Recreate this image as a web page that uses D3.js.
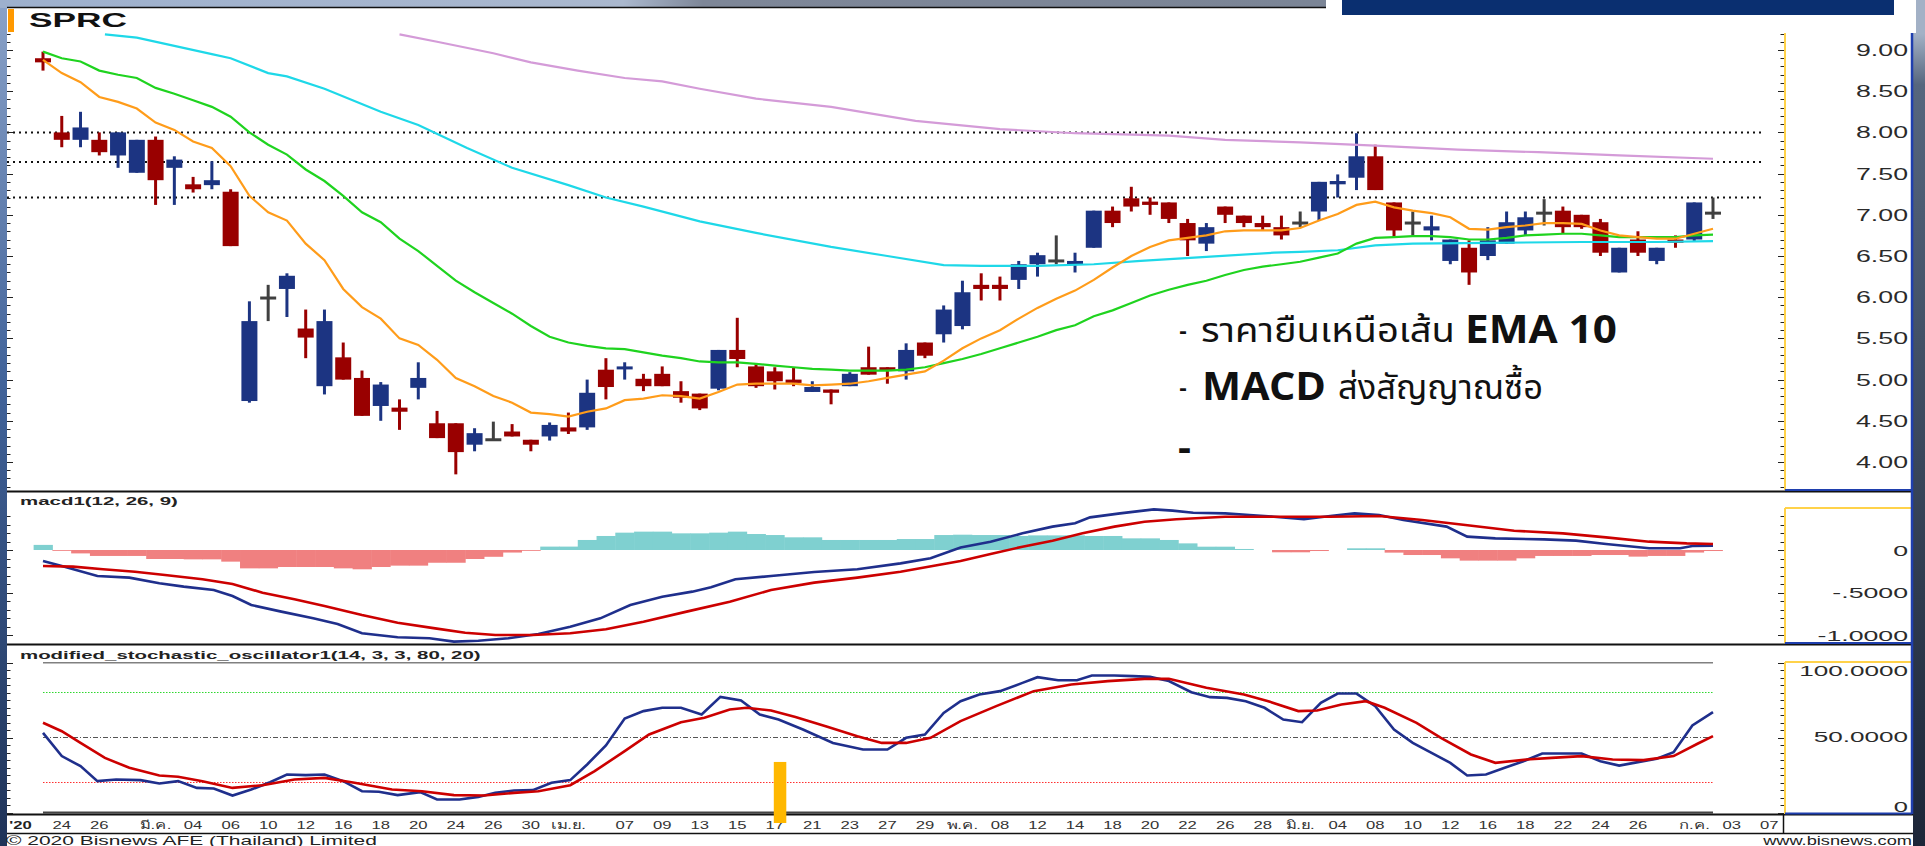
<!DOCTYPE html>
<html>
<head>
<meta charset="utf-8">
<script src="https://cdn.jsdelivr.net/npm/d3@7"></script>
<style>
    html, body {margin: 0; padding: 0; background: #26385a; overflow: hidden;}
    svg {display: block;}
</style>
</head>
<body>
<svg id="chart" width="1925" height="846"></svg>
<script>
// ---------------- data ----------------
// one entry per trading day, index 0 = 21 Feb 2020
let dates = ['02-21', '02-24', '02-25', '02-26', '02-27', '02-28', '03-02', '03-03', '03-04', '03-05',
    '03-06', '03-09', '03-10', '03-11', '03-12', '03-13', '03-16', '03-17', '03-18', '03-19',
    '03-20', '03-23', '03-24', '03-25', '03-26', '03-27', '03-30', '03-31', '04-01', '04-02',
    '04-03', '04-07', '04-08', '04-09', '04-10', '04-13', '04-14', '04-15', '04-16', '04-17',
    '04-20', '04-21', '04-22', '04-23', '04-24', '04-27', '04-28', '04-29', '04-30', '05-05',
    '05-07', '05-08', '05-11', '05-12', '05-13', '05-14', '05-15', '05-18', '05-19', '05-20',
    '05-21', '05-22', '05-25', '05-26', '05-27', '05-28', '05-29', '06-01', '06-02', '06-04',
    '06-05', '06-08', '06-09', '06-10', '06-11', '06-12', '06-15', '06-16', '06-17', '06-18',
    '06-19', '06-22', '06-23', '06-24', '06-25', '06-26', '06-29', '06-30', '07-01', '07-02'];

let opens = [8.90, 8.00, 7.91, 7.91, 7.72, 7.51, 7.91, 7.57, 7.37, 7.36,
    7.28, 4.74, 5.99, 6.10, 5.62, 4.92, 5.27, 5.02, 4.68, 4.66,
    4.90, 4.47, 4.47, 4.21, 4.27, 4.37, 4.27, 4.31, 4.42, 4.42,
    5.12, 5.13, 5.01, 5.07, 4.86, 4.83, 4.89, 5.36, 5.16, 5.10,
    5.00, 4.85, 4.88, 4.92, 5.15, 5.15, 5.10, 5.45, 5.55, 5.65,
    6.15, 6.15, 6.21, 6.40, 6.44, 6.40, 6.60, 7.05, 7.20, 7.16,
    7.15, 6.90, 6.65, 7.10, 6.99, 6.90, 6.85, 6.90, 7.04, 7.37,
    7.45, 7.71, 7.15, 6.90, 6.81, 6.44, 6.60, 6.50, 6.65, 6.81,
    7.02, 7.05, 7.00, 6.91, 6.30, 6.70, 6.44, 6.70, 6.70, 7.02];
let highs = [8.98, 8.20, 8.25, 8.00, 8.00, 7.91, 7.95, 7.71, 7.46, 7.65,
    7.31, 5.95, 6.15, 6.29, 5.85, 5.85, 5.45, 5.11, 4.97, 4.76,
    5.21, 4.62, 4.47, 4.41, 4.49, 4.46, 4.27, 4.48, 4.60, 5.00,
    5.26, 5.21, 5.07, 5.16, 4.98, 4.83, 5.36, 5.75, 5.19, 5.15,
    5.15, 4.98, 4.88, 5.09, 5.40, 5.15, 5.44, 5.45, 5.90, 6.20,
    6.29, 6.25, 6.44, 6.54, 6.75, 6.54, 7.05, 7.10, 7.34, 7.21,
    7.15, 6.95, 6.90, 7.10, 6.99, 6.99, 6.99, 7.04, 7.40, 7.49,
    7.99, 7.85, 7.15, 7.04, 6.99, 6.70, 6.69, 6.85, 7.04, 7.04,
    7.19, 7.10, 7.00, 6.95, 6.60, 6.80, 6.60, 6.75, 7.15, 7.21];
let lows = [8.75, 7.82, 7.82, 7.72, 7.57, 7.51, 7.12, 7.12, 7.27, 7.31,
    6.62, 4.72, 5.71, 5.76, 5.26, 4.82, 5.00, 4.56, 4.50, 4.39,
    4.76, 4.29, 3.85, 4.13, 4.27, 4.31, 4.13, 4.26, 4.34, 4.39,
    4.76, 5.00, 4.86, 4.92, 4.72, 4.63, 4.87, 5.15, 4.90, 4.88,
    4.92, 4.85, 4.70, 4.92, 5.06, 4.95, 5.00, 5.26, 5.45, 5.61,
    5.96, 5.96, 6.10, 6.25, 6.40, 6.30, 6.60, 6.85, 7.04, 7.00,
    6.90, 6.50, 6.56, 6.90, 6.85, 6.81, 6.70, 6.85, 6.93, 7.21,
    7.30, 7.30, 6.72, 6.75, 6.69, 6.40, 6.15, 6.45, 6.65, 6.75,
    6.87, 6.77, 6.83, 6.50, 6.30, 6.50, 6.40, 6.60, 6.68, 6.95];
let closes = [8.85, 7.91, 8.06, 7.76, 8.00, 7.91, 7.42, 7.67, 7.31, 7.42,
    6.62, 5.71, 5.99, 6.26, 5.51, 5.71, 5.00, 4.56, 4.94, 4.61,
    5.02, 4.29, 4.12, 4.35, 4.27, 4.31, 4.21, 4.45, 4.37, 4.84,
    4.91, 5.16, 4.92, 4.92, 4.78, 4.65, 5.36, 5.25, 4.92, 4.98,
    4.96, 4.91, 4.84, 5.07, 5.06, 5.13, 5.36, 5.29, 5.85, 6.06,
    6.10, 6.10, 6.40, 6.51, 6.44, 6.44, 7.05, 6.90, 7.10, 7.12,
    6.95, 6.69, 6.85, 7.00, 6.90, 6.85, 6.75, 6.90, 7.40, 7.41,
    7.71, 7.30, 6.81, 6.90, 6.86, 6.70, 6.30, 6.69, 6.91, 6.97,
    7.02, 6.85, 6.85, 6.54, 6.60, 6.54, 6.60, 6.66, 7.15, 7.02];

// moving averages, [day index, price]
let ema10 = [[0, 8.88], [1, 8.72], [2, 8.61], [3, 8.43], [4, 8.37], [5, 8.29], [6, 8.12], [7, 8.03], [8, 7.89], [9, 7.81],
    [10, 7.59], [11, 7.23], [12, 7.03], [13, 6.93], [14, 6.65], [15, 6.45], [16, 6.10], [17, 5.88], [18, 5.74], [19, 5.50],
    [20, 5.42], [21, 5.24], [22, 5.02], [23, 4.92], [24, 4.80], [25, 4.72], [26, 4.60], [27, 4.58], [28, 4.55], [29, 4.61],
    [30, 4.65], [31, 4.75], [32, 4.77], [33, 4.81], [34, 4.80], [35, 4.77], [36, 4.85], [37, 4.94], [38, 4.95], [39, 4.95],
    [40, 4.95], [41, 4.93], [42, 4.94], [43, 4.95], [44, 4.98], [45, 5.02], [46, 5.06], [47, 5.10], [48, 5.23], [49, 5.38],
    [50, 5.50], [51, 5.60], [52, 5.74], [53, 5.87], [54, 5.98], [55, 6.08], [56, 6.21], [57, 6.36], [58, 6.50], [59, 6.61],
    [60, 6.69], [61, 6.72], [62, 6.75], [63, 6.80], [64, 6.81], [65, 6.81], [66, 6.81], [67, 6.84], [68, 6.93], [69, 7.01],
    [70, 7.12], [71, 7.16], [72, 7.09], [73, 7.05], [74, 7.02], [75, 6.97], [76, 6.83], [77, 6.82], [78, 6.85], [79, 6.87],
    [80, 6.90], [81, 6.90], [82, 6.89], [83, 6.81], [84, 6.75], [85, 6.73], [86, 6.71], [87, 6.71], [88, 6.77], [89, 6.83]];
let ema25 = [[0, 8.98], [1, 8.90], [2, 8.86], [3, 8.75], [4, 8.70], [5, 8.66], [6, 8.54], [7, 8.47], [8, 8.39], [9, 8.31],
    [10, 8.19], [11, 8.00], [12, 7.85], [13, 7.73], [14, 7.55], [15, 7.41], [16, 7.23], [17, 7.03], [18, 6.91], [19, 6.71],
    [20, 6.56], [21, 6.38], [22, 6.20], [23, 6.06], [24, 5.93], [25, 5.80], [26, 5.65], [27, 5.52], [28, 5.45], [29, 5.41],
    [30, 5.38], [31, 5.37], [32, 5.33], [33, 5.29], [34, 5.26], [35, 5.22], [36, 5.21], [37, 5.21], [38, 5.19], [39, 5.17],
    [40, 5.15], [41, 5.13], [42, 5.12], [43, 5.11], [44, 5.11], [45, 5.11], [46, 5.12], [47, 5.15], [48, 5.20], [49, 5.25],
    [50, 5.31], [51, 5.38], [52, 5.45], [53, 5.52], [54, 5.60], [55, 5.66], [56, 5.77], [57, 5.84], [58, 5.93], [59, 6.02],
    [60, 6.09], [61, 6.15], [62, 6.20], [63, 6.27], [64, 6.33], [65, 6.37], [66, 6.40], [67, 6.43], [68, 6.48], [69, 6.53],
    [70, 6.65], [71, 6.72], [72, 6.73], [73, 6.74], [74, 6.74], [75, 6.73], [76, 6.70], [77, 6.70], [78, 6.72], [79, 6.75],
    [80, 6.76], [81, 6.77], [82, 6.77], [83, 6.75], [84, 6.73], [85, 6.73], [86, 6.73], [87, 6.73], [88, 6.75], [89, 6.76]];
let ema75 = [[3.3, 9.19], [5, 9.15], [7, 9.05], [9, 8.95], [10, 8.90], [12, 8.72], [13, 8.68], [15, 8.53], [18, 8.25],
    [20, 8.09], [22.6, 7.81], [25, 7.57], [28, 7.36], [30, 7.21], [32, 7.10], [35, 6.92], [38, 6.78], [42, 6.61],
    [45, 6.50], [48, 6.39], [50, 6.38], [53, 6.38], [56, 6.40], [58.5, 6.44], [62, 6.49], [65.6, 6.54], [67, 6.55],
    [69, 6.57], [71, 6.63], [73, 6.65], [77, 6.66], [82, 6.67], [86, 6.67], [89, 6.68]];
let ema200 = [[19, 9.19], [21, 9.10], [24, 8.96], [26, 8.85], [28.5, 8.75], [31, 8.66], [33, 8.62], [35, 8.53],
    [38, 8.41], [42, 8.31], [46.5, 8.14], [51, 8.04], [55, 7.99], [60, 7.96], [63, 7.91], [67, 7.88], [71, 7.84],
    [75.4, 7.79], [79.7, 7.76], [84, 7.72], [89, 7.68]];

// dotted price levels drawn across the price panel
let levels = [8.00, 7.64, 7.21];

// MACD(12, 26, 9)
let macdLine = [[0, -0.129], [1, -0.188], [2.9, -0.306], [4.6, -0.325], [6.2, -0.392], [7.5, -0.431], [9.1, -0.471],
    [10.1, -0.541], [11.1, -0.647], [12.7, -0.725], [14.4, -0.804], [15.7, -0.871], [17, -0.98], [18.9, -1.027],
    [20.6, -1.039], [21.9, -1.078], [23.2, -1.067], [24.8, -1.039], [26.4, -0.988], [28.1, -0.902], [29.7, -0.804],
    [31.3, -0.647], [33, -0.549], [34.6, -0.49], [35.6, -0.439], [36.9, -0.345], [38.8, -0.306], [41.1, -0.259],
    [43.4, -0.227], [45.7, -0.157], [47.3, -0.098], [48.9, 0.03], [50.5, 0.098], [52.2, 0.196], [53.8, 0.275],
    [55, 0.314], [55.8, 0.384], [57.4, 0.431], [59.2, 0.478], [60.2, 0.463], [61.3, 0.439], [63, 0.431],
    [64.3, 0.412], [65.6, 0.392], [67.2, 0.361], [68.6, 0.4], [69.9, 0.431], [71.2, 0.412], [72.5, 0.353],
    [74.8, 0.275], [75.9, 0.157], [77.4, 0.137], [80, 0.125], [81.7, 0.11], [83.3, 0.071], [85.6, 0.02],
    [87.25, 0.02], [87.9, 0.047], [89, 0.051]];
let signalLine = [[0, -0.188], [1.6, -0.196], [3.2, -0.227], [4.9, -0.255], [6.5, -0.294], [8.5, -0.345], [10.1, -0.4],
    [11.7, -0.502], [13.4, -0.58], [15, -0.659], [17, -0.765], [18.9, -0.855], [20.9, -0.922], [22.5, -0.973],
    [24.1, -1.0], [26.1, -1.0], [28.1, -0.98], [30, -0.933], [32, -0.843], [34.3, -0.725], [36.6, -0.608],
    [38.8, -0.471], [41.1, -0.384], [43.4, -0.325], [45.7, -0.255], [48.9, -0.129], [50.5, -0.047], [52.2, 0.039],
    [53.8, 0.11], [55.4, 0.196], [57.1, 0.275], [58.7, 0.333], [60.4, 0.361], [63, 0.392], [65.3, 0.392],
    [68.6, 0.392], [71.2, 0.4], [73.5, 0.353], [75.8, 0.294], [78.4, 0.227], [81, 0.196], [83.3, 0.149],
    [85.6, 0.098], [87.6, 0.078], [89, 0.071]];
let macdHist = [0.06, -0.01, -0.04, -0.07, -0.07, -0.07, -0.106, -0.106, -0.11, -0.11,
    -0.137, -0.216, -0.216, -0.2, -0.2, -0.2, -0.216, -0.227, -0.2, -0.184,
    -0.184, -0.15, -0.15, -0.106, -0.08, -0.03, -0.01, 0.04, 0.04, 0.118,
    0.165, 0.204, 0.216, 0.216, 0.196, 0.196, 0.204, 0.216, 0.188, 0.176,
    0.149, 0.149, 0.118, 0.118, 0.118, 0.118, 0.129, 0.129, 0.176, 0.18,
    0.176, 0.176, 0.165, 0.172, 0.172, 0.172, 0.165, 0.165, 0.137, 0.137,
    0.118, 0.078, 0.039, 0.039, 0.012, 0, -0.027, -0.027, -0.012, 0,
    0.02, 0.02, -0.031, -0.059, -0.059, -0.098, -0.125, -0.125, -0.125, -0.098,
    -0.07, -0.07, -0.07, -0.059, -0.059, -0.078, -0.07, -0.07, -0.03, -0.012];

// modified stochastic oscillator (14, 3, 3, 80, 20)
let stochK = [[0, 53.1], [1, 37.6], [2, 30.9], [2.9, 20.9], [3.9, 22.0], [5.2, 21.6], [6.2, 19.3], [7.2, 20.9], [8.2, 16.4],
    [9.1, 16.0], [10.1, 11.3], [11.1, 15.3], [12.1, 20.2], [13, 25.3], [14, 24.9], [15, 25.3], [16, 20.9], [17, 14.2],
    [17.9, 13.8], [18.9, 11.6], [20.1, 13.6], [21, 8.7], [22.2, 8.7], [23.2, 10.4], [24.1, 13.1], [25.1, 14.7],
    [26.1, 14.9], [27.1, 19.8], [28.1, 21.6], [29, 32.0], [30, 44.7], [31, 62.7], [32, 67.6], [33, 69.8], [34, 69.8],
    [35.1, 65.3], [36.1, 77.1], [37.2, 74.7], [38.2, 65.3], [39.2, 62.0], [40.5, 55.3], [42.1, 46.4], [43.7, 42.0],
    [45, 42.0], [46, 49.8], [47, 52.0], [48, 66.4], [48.9, 74.2], [49.9, 78.7], [51, 80.9], [52.2, 86.4], [53, 90.2],
    [54.1, 88.2], [55.1, 88.2], [55.9, 91.3], [57.1, 91.3], [58.1, 90.9], [59, 90.4], [60, 87.6], [61.2, 80.2],
    [62.2, 76.9], [63.1, 76.4], [64.1, 74.2], [65.1, 69.8], [66.1, 62.0], [67.1, 60.2], [68.1, 73.1], [69, 79.3],
    [70, 79.3], [71, 70.9], [72, 55.3], [73, 46.4], [74, 39.8], [75, 33.1], [75.9, 24.7], [76.9, 25.3], [77.9, 29.8],
    [78.9, 34.2], [79.9, 39.3], [80.9, 39.3], [82, 39.3], [83, 34.2], [84, 31.3], [85, 33.6], [86, 35.8], [86.9, 40.2],
    [87.9, 58.0], [89, 66.9]];
let stochD = [[0, 59.8], [1, 54.2], [2, 46.4], [3.3, 36.4], [4.6, 29.8], [6.2, 24.7], [7.2, 23.8], [8.5, 20.9], [10.1, 16.4],
    [11.7, 18.2], [13.4, 22.0], [15, 23.1], [16.6, 19.8], [18.6, 15.3], [20.2, 14.2], [21.9, 11.6], [23.5, 11.3],
    [25.1, 13.1], [26.4, 14.2], [28.1, 18.2], [29.4, 27.6], [31, 40.9], [32.3, 52.0], [34, 60.2], [35.25, 63.1],
    [36.6, 68.7], [37.5, 69.8], [38.8, 68.0], [40.1, 63.6], [41.8, 57.1], [43.4, 50.9], [44.7, 46.4], [46, 46.4],
    [47.3, 49.8], [48.9, 60.9], [50.8, 70.9], [52.8, 80.9], [54.8, 85.3], [56.75, 87.6], [58.7, 89.1], [60, 89.1],
    [62, 83.1], [64, 78.7], [65.3, 74.2], [66.9, 67.6], [67.9, 68.0], [69.2, 72.0], [70.5, 74.2], [71.5, 69.8],
    [73.2, 59.8], [74.5, 49.8], [76.1, 38.7], [77.4, 33.1], [79.05, 35.3], [80.4, 36.4], [82, 37.6], [83.65, 35.3],
    [85.3, 34.9], [86.9, 37.6], [88.2, 46.0], [89, 50.9]];
let stochUpper = 80, stochLower = 20, stochMid = 50;

// axis labels
let yearTick = [-1.8, "'20"];
let dateTicks = [[1, '24'], [3, '26'], [6, 'มี.ค.'], [8, '04'], [10, '06'], [12, '10'], [14, '12'],
    [16, '16'], [18, '18'], [20, '20'], [22, '24'], [24, '26'], [26, '30'], [28, 'เม.ย.'], [31, '07'], [33, '09'],
    [35, '13'], [37, '15'], [39, '17'], [41, '21'], [43, '23'], [45, '27'], [47, '29'], [49, 'พ.ค.'], [51, '08'],
    [53, '12'], [55, '14'], [57, '18'], [59, '20'], [61, '22'], [63, '26'], [65, '28'], [67, 'มิ.ย.'], [69, '04'],
    [71, '08'], [73, '10'], [75, '12'], [77, '16'], [79, '18'], [81, '22'], [83, '24'], [85, '26'], [88, 'ก.ค.'],
    [90, '03'], [92, '07']];
let priceTicks = [9, 8.5, 8, 7.5, 7, 6.5, 6, 5.5, 5, 4.5, 4];
let macdTicks = [[0, '0'], [-0.5, '-.5000'], [-1, '-1.0000']];
let stochTicks = [[100, '100.0000'], [50, '50.0000'], [0, '0']];
let markerDay = 39; // yellow flag under 17 Apr

// ---------------- layout ----------------
let W = 1925, H = 846;
let plotL = 7, plotR = 1785, frameR = 1912;
let main = {top: 8, bottom: 491};
let macdP = {top: 508, bottom: 643};
let stochP = {top: 662, bottom: 814};

let x = d3.scaleLinear().domain([0, 89]).range([43, 1713]);
let step = x(1) - x(0);
let yPrice = d3.scaleLinear().domain([4, 9]).range([462, 50]);
let yMacd = d3.scaleLinear().domain([-1, 0]).range([635, 550]);
let yStoch = d3.scaleLinear().domain([0, 100]).range([812.5, 662.5]);

let SVG = d3.select('#chart');
let defs = SVG.append('defs');

function gradient(id, vertical, stops) {
    let g = defs.append('linearGradient').attr('id', id)
        .attr('x1', 0).attr('y1', 0)
        .attr('x2', vertical ? 0 : 1).attr('y2', vertical ? 1 : 0);
    stops.forEach(s => g.append('stop').attr('offset', s[0]).attr('stop-color', s[1]));
}
gradient('topGrad', false, [[0, '#9db0cd'], [0.47, '#aab8ce'], [0.53, '#7e8798'], [1, '#7b8596']]);
gradient('leftGrad', true, [[0, '#8aa2c8'], [0.45, '#41639a'], [1, '#1f3358']]);
gradient('rightGrad', true, [[0, '#a3b1c6'], [0.04, '#a3b1c6'], [0.1, '#56667e'], [1, '#1c2638']]);

function clip(id, p) {
    defs.append('clipPath').attr('id', id).append('rect')
        .attr('x', plotL).attr('y', p.top).attr('width', plotR - plotL).attr('height', p.bottom - p.top);
}
clip('clipMain', main);
clip('clipMacd', macdP);
clip('clipStoch', stochP);

// stretched text, the source screenshot is widened horizontally
function stretched(parent, str, px, py, o) {
    let t = parent.append('text').text(str)
        .attr('font-family', o.family || "'Liberation Sans', Arial, sans-serif")
        .attr('font-size', o.size)
        .attr('font-weight', o.weight || 'normal')
        .attr('text-anchor', o.anchor || 'start')
        .attr('fill', o.fill || '#2a2a2a');
    let k = o.scale || 1;
    if (o.width) k = o.width / t.node().getComputedTextLength();
    t.attr('transform', 'translate(' + px + ',' + py + ') scale(' + k + ',1)');
    return t;
}

function hline(y, x1, x2, color, w, dash) {
    SVG.append('line').attr('x1', x1).attr('x2', x2).attr('y1', y).attr('y2', y)
        .style('stroke', color).style('stroke-width', w).style('stroke-dasharray', dash || null);
}
function vline(xv, y1, y2, color, w) {
    SVG.append('line').attr('x1', xv).attr('x2', xv).attr('y1', y1).attr('y2', y2)
        .style('stroke', color).style('stroke-width', w);
}

// ---------------- slide background and frame ----------------
SVG.append('rect').attr('width', W).attr('height', H).attr('fill', '#26385a');
SVG.append('rect').attr('x', 1913).attr('y', 0).attr('width', 12).attr('height', H).attr('fill', 'url(#rightGrad)');
SVG.append('rect').attr('x', 0).attr('y', 0).attr('width', 7).attr('height', H).attr('fill', 'url(#leftGrad)');
SVG.append('rect').attr('x', 0).attr('y', 0).attr('width', 1326).attr('height', 8).attr('fill', 'url(#topGrad)');
SVG.append('rect').attr('x', 7).attr('y', 8).attr('width', 1906).attr('height', H - 8).attr('fill', '#fff');
SVG.append('rect').attr('x', 1326).attr('y', 0).attr('width', 590).attr('height', 33).attr('fill', '#fff');
SVG.append('rect').attr('x', 1342).attr('y', 0).attr('width', 552).attr('height', 15).attr('fill', '#0a2f70');
hline(7.5, 7, 1326, '#111', 1.5);

// ---------------- price panel ----------------
let gMain = SVG.append('g').attr('clip-path', 'url(#clipMain)');

gMain.selectAll('.level').data(levels).enter().append('line')
    .attr('x1', plotL).attr('x2', 1765)
    .attr('y1', yPrice).attr('y2', yPrice)
    .style('stroke', '#111').style('stroke-width', 2).style('stroke-dasharray', '2,4');

let candles = dates.map((d, i) => ({i: i, o: opens[i], h: highs[i], l: lows[i], c: closes[i]}));
let candleColor = d => d.c > d.o ? '#1c3482' : d.c < d.o ? '#990000' : '#404040';

gMain.selectAll('.wick').data(candles).enter().append('line')
    .attr('x1', d => x(d.i)).attr('x2', d => x(d.i))
    .attr('y1', d => yPrice(d.h)).attr('y2', d => yPrice(d.l))
    .style('stroke', candleColor).style('stroke-width', 3);

gMain.selectAll('.body').data(candles).enter().append('rect')
    .attr('x', d => x(d.i) - 8)
    .attr('width', 16)
    .attr('y', d => d.c === d.o ? yPrice(d.c) - 1.5 : yPrice(Math.max(d.o, d.c)))
    .attr('height', d => Math.max(3, Math.abs(yPrice(d.o) - yPrice(d.c))))
    .attr('fill', candleColor);

let priceLine = d3.line().x(d => x(d[0])).y(d => yPrice(d[1]));
[[ema200, '#d49bd8'], [ema75, '#1ed8e8'], [ema25, '#1fd31f'], [ema10, '#ff9c1a']].forEach(s => {
    gMain.append('path').datum(s[0]).attr('d', priceLine)
        .style('fill', 'none').style('stroke', s[1]).style('stroke-width', 2.2);
});

// title
SVG.append('rect').attr('x', 8).attr('y', 9).attr('width', 6).attr('height', 23).attr('fill', '#ff9900');
stretched(SVG, 'SPRC', 29, 26.5, {size: 19.5, weight: 'bold', width: 98, fill: '#111'});

// ---------------- MACD panel ----------------
let gMacd = SVG.append('g').attr('clip-path', 'url(#clipMacd)');
gMacd.selectAll('.hist').data(macdHist.map((v, i) => [i, v]).filter(d => d[1] !== 0)).enter().append('rect')
    .attr('x', d => x(d[0]) - step / 2)
    .attr('width', step + 0.5)
    .attr('y', d => yMacd(Math.max(0, d[1])))
    .attr('height', d => Math.abs(yMacd(d[1]) - yMacd(0)))
    .attr('fill', d => d[1] > 0 ? '#7fd0d0' : '#f08080');

let macdPath = d3.line().x(d => x(d[0])).y(d => yMacd(d[1]));
gMacd.append('path').datum(macdLine).attr('d', macdPath)
    .style('fill', 'none').style('stroke', '#1f2f8c').style('stroke-width', 2.6);
gMacd.append('path').datum(signalLine).attr('d', macdPath)
    .style('fill', 'none').style('stroke', '#cc0000').style('stroke-width', 2.6);

stretched(SVG, 'macd1(12, 26, 9)', 20, 504.5, {size: 11.5, weight: 'bold', width: 158, fill: '#222'});

// ---------------- stochastic panel ----------------
let gStoch = SVG.append('g').attr('clip-path', 'url(#clipStoch)');
let sx1 = x(0), sx2 = x(89);
gStoch.append('line').attr('x1', sx1).attr('x2', sx2).attr('y1', yStoch(100)).attr('y2', yStoch(100))
    .style('stroke', '#808080').style('stroke-width', 2);
gStoch.append('line').attr('x1', sx1).attr('x2', sx2).attr('y1', yStoch(0)).attr('y2', yStoch(0))
    .style('stroke', '#444').style('stroke-width', 2);
gStoch.append('line').attr('x1', sx1).attr('x2', sx2).attr('y1', yStoch(stochUpper)).attr('y2', yStoch(stochUpper))
    .style('stroke', '#2fd82f').style('stroke-width', 1.2).style('stroke-dasharray', '1.5,1.5');
gStoch.append('line').attr('x1', sx1).attr('x2', sx2).attr('y1', yStoch(stochLower)).attr('y2', yStoch(stochLower))
    .style('stroke', '#ff3030').style('stroke-width', 1.2).style('stroke-dasharray', '1.5,1.5');
gStoch.append('line').attr('x1', sx1).attr('x2', sx2).attr('y1', yStoch(stochMid)).attr('y2', yStoch(stochMid))
    .style('stroke', '#555').style('stroke-width', 1.2).style('stroke-dasharray', '5,2,1,2');

let stochPath = d3.line().x(d => x(d[0])).y(d => yStoch(d[1]));
gStoch.append('path').datum(stochK).attr('d', stochPath)
    .style('fill', 'none').style('stroke', '#1f2f8c').style('stroke-width', 2.6);
gStoch.append('path').datum(stochD).attr('d', stochPath)
    .style('fill', 'none').style('stroke', '#cc0000').style('stroke-width', 2.6);

stretched(SVG, 'modified_stochastic_oscillator1(14, 3, 3, 80, 20)', 20, 659, {size: 11.5, weight: 'bold', width: 461, fill: '#222'});

// ---------------- panel borders and axes ----------------
hline(491.5, 7, 1913, '#111', 2);
hline(644.5, 7, 1913, '#111', 2);
hline(814.5, 7, 1913, '#111', 2);
hline(833.5, 7, 1913, '#111', 1.5);
vline(1783.5, 814, 834, '#111', 1.5);

// axis boxes
vline(plotR, 33, 490, '#ffd24a', 2);
hline(490, plotR, frameR, '#1f3fae', 2);
hline(macdP.top, plotR, frameR, '#ffd24a', 2);
vline(plotR, macdP.top, macdP.bottom, '#ffd24a', 2);
hline(macdP.bottom, plotR, frameR, '#1f3fae', 2);
hline(stochP.top, plotR, frameR, '#ffd24a', 2);
vline(plotR, stochP.top, stochP.bottom, '#ffd24a', 2);
hline(stochP.bottom - 0.5, plotR, frameR, '#1f3fae', 2);
vline(frameR, 33, 814, '#1f3fae', 2.5);

// tick marks on both sides of each panel
function ticks(scale, values, major) {
    values.forEach(v => {
        let isMajor = Math.abs(v / major - Math.round(v / major)) < 1e-6;
        let len = isMajor ? 6 : 3.5;
        let yv = Math.round(scale(v)) + 0.5;
        SVG.append('line').attr('x1', plotL).attr('x2', plotL + len).attr('y1', yv).attr('y2', yv)
            .style('stroke', '#222').style('stroke-width', 1);
        SVG.append('line').attr('x1', plotR - 1 - len).attr('x2', plotR - 1).attr('y1', yv).attr('y2', yv)
            .style('stroke', '#222').style('stroke-width', 1);
    });
}
ticks(yPrice, d3.range(36, 96).map(v => v / 10).filter(v => yPrice(v) > 33 && yPrice(v) < 489), 0.5);
ticks(yMacd, d3.range(-11, 6).map(v => v / 10).filter(v => yMacd(v) > macdP.top && yMacd(v) < macdP.bottom), 0.5);
ticks(yStoch, d3.range(0, 21).map(v => v * 5), 50);

// value labels
let gAxis = SVG.append('g');
priceTicks.forEach(p => stretched(gAxis, d3.format('.2f')(p), 1908, yPrice(p) + 6, {size: 16.3, anchor: 'end', scale: 1.64, fill: '#2a2a2a'}));
macdTicks.forEach(t => stretched(gAxis, t[1], 1908, yMacd(t[0]) + 5.5, {size: 15, anchor: 'end', scale: 1.78, fill: '#2a2a2a'}));
stretched(gAxis, stochTicks[0][1], 1908, yStoch(stochTicks[0][0]) + 13.5, {size: 15, anchor: 'end', scale: 1.74, fill: '#2a2a2a'});
stretched(gAxis, stochTicks[1][1], 1908, yStoch(stochTicks[1][0]) + 4.5, {size: 15, anchor: 'end', scale: 1.74, fill: '#2a2a2a'});
stretched(gAxis, stochTicks[2][1], 1908, yStoch(stochTicks[2][0]) - 1, {size: 15, anchor: 'end', scale: 1.7, fill: '#2a2a2a'});

// date labels
stretched(gAxis, yearTick[1], x(yearTick[0]), 828.5, {size: 11.5, weight: 'bold', scale: 1.45, fill: '#222'});
dateTicks.forEach(t => stretched(gAxis, t[1], x(t[0]), 828.5, {size: 11.5, anchor: 'middle', scale: 1.45, fill: '#333'}));

// yellow flag in the oscillator panel
SVG.append('rect').attr('x', x(markerDay) - 1).attr('width', 12.5)
    .attr('y', yStoch(33.7)).attr('height', 823 - yStoch(33.7)).attr('fill', '#ffb800');

// footer
stretched(SVG, '© 2020 Bisnews AFE (Thailand) Limited', 6, 844.5, {size: 12, width: 371, fill: '#222'});
stretched(SVG, 'www.bisnews.com', 1912, 844.5, {size: 12, anchor: 'end', width: 149, fill: '#222'});

// ---------------- commentary ----------------
let thai = "'Noto Sans Thai', 'Noto Sans Thai UI', Tahoma, Loma, Garuda, 'Noto Sans', sans-serif";
let gNote = SVG.append('g');
stretched(gNote, '-', 1179, 342, {size: 34, family: thai, fill: '#111', width: 8});
stretched(gNote, 'ราคายืนเหนือเส้น', 1201, 342, {size: 34, family: thai, fill: '#111', width: 254});
stretched(gNote, 'EMA 10', 1465, 342.5, {size: 40, family: thai, weight: 'bold', fill: '#111', width: 152});
stretched(gNote, '-', 1179, 399, {size: 34, family: thai, fill: '#111', width: 8});
stretched(gNote, 'MACD', 1202, 399.5, {size: 40, family: thai, weight: 'bold', fill: '#111', width: 124});
stretched(gNote, 'ส่งสัญญาณซื้อ', 1338, 399, {size: 34, family: thai, fill: '#111', width: 205});
stretched(gNote, '-', 1178, 461, {size: 40, family: thai, weight: 'bold', fill: '#111', width: 13});
</script>
</body>
</html>
